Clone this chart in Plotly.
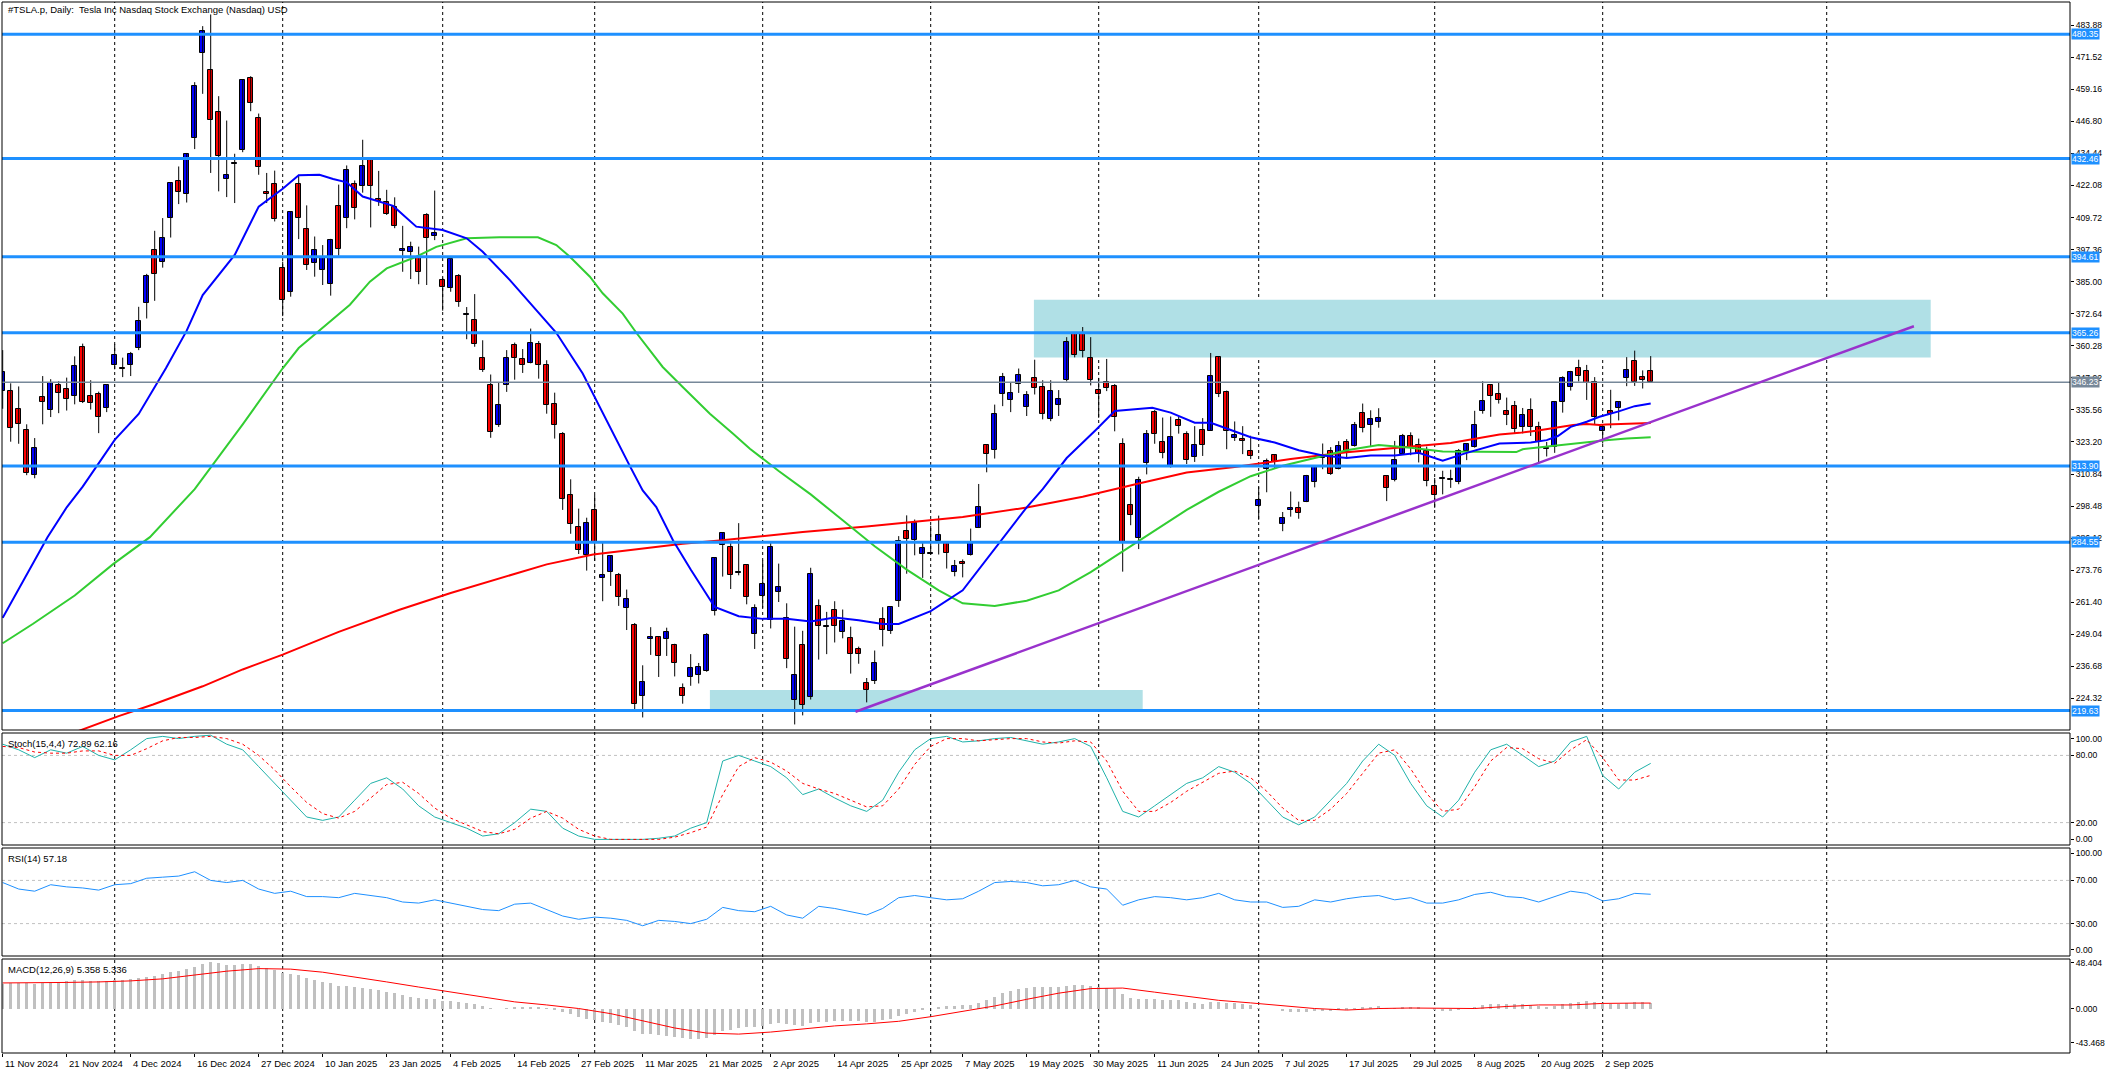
import plotly.graph_objects as go

W, H = 2106, 1073
L_PX, R_PX, T_PX, B_PX = 2, 2070, 2, 1053

# ---------------- data ----------------
date_labels = ["11 Nov 2024", "21 Nov 2024", "4 Dec 2024", "16 Dec 2024", "27 Dec 2024",
               "10 Jan 2025", "23 Jan 2025", "4 Feb 2025", "14 Feb 2025", "27 Feb 2025",
               "11 Mar 2025", "21 Mar 2025", "2 Apr 2025", "14 Apr 2025", "25 Apr 2025",
               "7 May 2025", "19 May 2025", "30 May 2025", "11 Jun 2025", "24 Jun 2025",
               "7 Jul 2025", "17 Jul 2025", "29 Jul 2025", "8 Aug 2025", "20 Aug 2025", "2 Sep 2025"]
label_bar = [0, 8, 16, 24, 32, 40, 48, 56, 64, 72, 80, 88, 96, 104, 112, 120, 128, 136, 144,
             152, 160, 168, 176, 184, 192, 200]
month_start_bar = [14, 35, 55, 74, 95, 116, 137, 157, 179, 200, 228]

opens = [342.7, 342.7, 335.9, 327.7, 310.6, 340.7, 335.5, 345.0, 343.8, 341.1,
         359.8, 341.0, 341.8, 336.1, 352.7, 351.8, 352.7, 359.5, 376.9, 397.2,
         392.4, 409.5, 423.9, 418.7, 440.4, 473.3, 466.4, 450.4, 424.5, 430.3,
         435.6, 463.6, 448.1, 419.5, 422.6, 390.1, 380.9, 422.7, 405.3, 392.1,
         389.5, 384.0, 414.2, 409.7, 422.6, 421.9, 432.2, 416.9, 415.6, 413.9,
         397.0, 396.3, 394.1, 410.6, 402.5, 385.5, 382.4, 387.1, 372.0, 370.2,
         355.7, 345.0, 329.9, 345.3, 360.4, 355.1, 353.7, 361.1, 353.0, 338.0,
         326.4, 302.8, 290.6, 279.5, 297.0, 270.9, 272.9, 272.1, 259.3, 252.5,
         225.3, 247.2, 248.1, 247.3, 245.1, 228.2, 232.5, 233.4, 235.0, 258.1,
         283.6, 282.7, 272.5, 275.6, 249.3, 263.8, 254.6, 265.3, 255.4, 223.8,
         245.0, 224.7, 260.0, 251.8, 258.4, 249.9, 247.6, 243.5, 230.3, 231.0,
         254.9, 250.5, 261.7, 289.0, 285.5, 279.9, 280.0, 284.9, 284.6, 273.1,
         276.9, 279.6, 290.2, 322.0, 320.0, 341.7, 339.3, 345.6, 336.6, 347.9,
         344.4, 332.1, 337.4, 347.0, 364.8, 364.9, 355.6, 343.3, 346.2, 344.8,
         322.5, 298.8, 286.0, 314.9, 334.7, 323.1, 314.0, 331.5, 326.1, 317.3,
         328.0, 327.5, 356.1, 342.5, 324.6, 324.5, 319.9, 298.5, 312.6, 318.0,
         291.4, 297.0, 297.6, 300.1, 307.9, 317.7, 319.7, 312.8, 323.2, 321.7,
         334.4, 329.7, 330.9, 310.0, 308.7, 318.5, 325.6, 322.2, 319.6, 306.2,
         309.1, 309.0, 307.9, 319.8, 321.4, 335.0, 345.0, 341.5, 335.0, 337.0,
         329.0, 335.5, 328.8, 320.9, 321.3, 338.5, 344.2, 351.7, 350.6, 346.5,
         327.5, 335.2, 336.2, 348.0, 354.6, 348.4, 350.6]
highs = [358.6, 345.8, 344.6, 330.0, 324.7, 348.6, 347.4, 346.6, 348.0, 356.2,
         361.1, 347.0, 342.6, 345.5, 360.9, 355.7, 357.9, 375.3, 388.0, 404.6,
         409.5, 423.4, 429.4, 434.6, 461.9, 483.5, 488.0, 456.5, 447.1, 434.3,
         462.8, 464.2, 449.8, 426.9, 427.8, 392.7, 412.0, 426.2, 414.4, 402.4,
         399.1, 401.5, 422.4, 429.8, 424.0, 439.7, 433.0, 427.7, 420.4, 417.5,
         406.5, 400.4, 398.5, 411.4, 420.1, 386.5, 393.9, 387.9, 375.2, 380.2,
         362.4, 349.2, 346.3, 358.6, 361.5, 359.0, 366.9, 362.1, 354.7, 342.2,
         327.0, 308.8, 297.5, 294.0, 302.8, 284.4, 279.6, 272.7, 266.3, 253.4,
         237.1, 251.8, 248.3, 251.6, 245.4, 230.1, 241.4, 238.0, 249.5, 278.6,
         288.2, 284.9, 291.9, 276.1, 260.6, 277.5, 285.0, 276.3, 261.0, 252.0,
         250.4, 274.7, 262.5, 257.7, 261.8, 258.6, 252.0, 244.3, 232.2, 242.8,
         259.5, 259.5, 286.9, 294.9, 293.3, 284.5, 290.9, 294.8, 284.9, 277.7,
         277.9, 289.8, 307.0, 322.2, 337.6, 349.8, 346.2, 351.5, 342.8, 354.9,
         347.0, 347.0, 343.2, 363.6, 365.3, 367.5, 363.6, 347.9, 355.2, 345.5,
         324.6, 305.5, 309.8, 327.8, 335.5, 332.6, 333.0, 333.0, 327.3, 329.3,
         332.4, 357.5, 356.3, 343.0, 331.1, 329.3, 325.6, 305.9, 316.8, 318.5,
         296.2, 304.1, 300.2, 310.5, 314.1, 322.6, 321.2, 323.5, 324.3, 330.9,
         338.0, 335.4, 336.2, 310.2, 323.6, 326.3, 326.9, 324.5, 321.4, 309.3,
         312.1, 312.5, 320.5, 322.4, 335.2, 346.6, 345.3, 346.0, 340.3, 339.0,
         336.3, 340.0, 331.0, 323.2, 339.0, 348.5, 350.6, 354.9, 352.9, 348.2,
         329.7, 343.3, 338.9, 355.9, 358.4, 350.8, 356.3]
lows = [336.0, 323.3, 322.5, 310.4, 309.2, 330.0, 332.8, 334.3, 335.3, 337.7,
        338.2, 335.7, 326.6, 334.7, 351.2, 348.2, 348.6, 358.6, 370.8, 377.6,
        390.4, 402.0, 414.9, 415.5, 436.1, 457.4, 426.9, 419.8, 417.6, 415.3,
        434.9, 450.7, 426.2, 415.3, 408.2, 371.7, 379.2, 401.4, 389.5, 386.9,
        383.7, 379.6, 395.0, 405.6, 409.0, 419.3, 405.9, 414.2, 410.7, 405.6,
        388.8, 386.0, 384.0, 383.7, 401.0, 373.8, 381.1, 375.3, 362.8, 359.9,
        350.2, 324.8, 329.0, 342.5, 347.2, 349.8, 353.5, 347.6, 334.1, 324.5,
        297.0, 287.8, 280.0, 273.6, 277.3, 261.8, 267.7, 260.0, 250.7, 220.0,
        217.0, 241.1, 232.6, 240.7, 232.8, 222.3, 229.2, 230.1, 234.6, 256.3,
        271.3, 266.5, 271.8, 260.6, 243.4, 259.3, 251.3, 261.5, 236.0, 214.3,
        217.8, 223.9, 239.3, 241.4, 245.9, 247.5, 233.9, 237.7, 222.8, 229.9,
        244.4, 249.2, 259.6, 272.4, 279.5, 270.8, 279.8, 279.8, 274.4, 271.4,
        271.0, 279.4, 290.0, 311.5, 316.8, 337.0, 334.7, 342.1, 333.2, 341.5,
        331.9, 331.2, 333.2, 346.5, 355.8, 355.8, 345.0, 332.5, 342.8, 327.3,
        273.2, 291.1, 281.9, 310.7, 322.5, 316.9, 313.3, 326.4, 314.7, 315.5,
        317.8, 327.5, 340.5, 320.4, 323.6, 318.5, 316.6, 293.2, 303.8, 312.8,
        288.8, 294.4, 293.6, 300.0, 305.7, 312.7, 310.5, 312.6, 317.1, 321.4,
        326.9, 321.6, 328.7, 300.4, 308.0, 318.3, 318.1, 315.3, 306.1, 297.8,
        303.0, 305.5, 306.9, 316.2, 321.0, 334.1, 332.9, 338.0, 329.7, 326.4,
        326.5, 325.5, 314.8, 317.6, 319.0, 334.5, 343.0, 346.5, 339.4, 330.1,
        322.6, 328.5, 331.5, 344.7, 344.8, 343.8, 346.1]
closes = [350.0, 328.5, 330.2, 311.2, 320.7, 338.7, 346.0, 342.0, 339.6, 352.3,
          338.6, 338.2, 332.9, 345.2, 356.6, 351.4, 357.3, 369.8, 387.2, 387.8,
          401.7, 423.0, 419.5, 434.2, 460.6, 481.6, 447.5, 433.3, 426.1, 430.7,
          462.6, 453.9, 429.2, 418.7, 409.1, 377.9, 411.7, 409.5, 391.4, 397.2,
          394.3, 401.1, 397.6, 428.2, 413.3, 429.6, 421.9, 416.1, 411.0, 406.6,
          397.4, 398.3, 388.8, 401.7, 403.6, 383.0, 393.6, 377.0, 372.6, 361.1,
          351.1, 327.0, 337.3, 355.7, 355.6, 353.0, 361.5, 353.0, 337.6, 329.9,
          301.3, 291.6, 281.5, 292.0, 284.6, 272.0, 279.1, 263.5, 262.7, 222.2,
          230.6, 248.1, 240.7, 250.0, 238.0, 225.3, 235.9, 236.3, 248.7, 278.4,
          288.1, 272.1, 273.1, 263.6, 259.2, 268.5, 282.8, 267.3, 239.4, 233.3,
          221.9, 272.2, 252.4, 252.3, 252.4, 254.1, 241.6, 241.4, 227.5, 238.0,
          250.7, 259.5, 285.0, 285.9, 292.0, 282.2, 280.5, 287.2, 280.3, 275.4,
          276.2, 284.8, 298.3, 318.4, 333.8, 348.4, 341.9, 349.0, 341.3, 344.0,
          334.1, 342.9, 339.8, 361.7, 356.6, 358.2, 347.1, 341.7, 344.0, 332.9,
          284.7, 295.1, 308.6, 326.1, 326.4, 319.1, 325.3, 329.3, 316.4, 322.1,
          322.2, 348.8, 341.7, 327.6, 325.8, 323.6, 317.7, 300.7, 315.7, 315.4,
          293.9, 297.8, 295.9, 309.9, 313.5, 316.9, 310.8, 321.7, 319.4, 329.7,
          328.5, 332.1, 332.6, 305.3, 316.1, 325.6, 321.2, 319.0, 308.3, 302.6,
          309.3, 308.7, 319.9, 322.3, 329.7, 339.0, 340.8, 339.4, 333.7, 328.3,
          333.6, 328.8, 323.0, 320.4, 338.5, 347.8, 350.1, 348.8, 345.8, 332.7,
          328.8, 334.1, 338.5, 350.8, 346.4, 347.0, 346.2]

# moving averages (bar index, value)
ma20_bar = [0, 3, 5.6, 8, 10, 14, 17, 20.4, 23, 25, 29, 32, 35, 37, 39.6, 41.3, 43, 45, 48.8,
            51.7, 55, 58, 60, 63.4, 66.7, 69.2, 72.5, 74.2, 76.7, 78.4, 80, 81.7, 83.8, 86,
            89, 92, 95, 98, 101, 104, 107, 110, 112, 116, 120, 124, 128, 130, 133, 136.7, 139,
            143.7, 146, 149, 151, 153, 156, 159, 162, 165, 168, 171, 174, 177, 180, 183,
            187.1, 191, 193, 194.4, 196, 198, 199.6, 202, 204, 206]
ma20_val = [255.4, 272, 286.5, 298, 306, 324, 334, 351.6, 366.1, 379.8, 395.3, 413.9, 420.8,
            426.0, 426.2, 424.6, 423.3, 417.8, 414.2, 406.2, 404.9, 401.7, 396.5, 385.6, 374.0,
            365.3, 349.6, 339.3, 323.8, 313.9, 304.5, 298.1, 285.2, 274, 259.6, 256, 255, 255,
            254, 255.5, 254.5, 253, 253, 258, 266, 282, 298, 305, 317, 328.0, 335.1, 336.4, 334.5,
            330.6, 330.6, 328.4, 325, 323, 320, 318, 317, 318, 318, 319, 316, 319,
            322.6, 323.0, 323.9, 325.5, 329.0, 331.0, 332.9, 335, 337, 338]
ma50_bar = [0, 3.8, 9, 13.8, 18.4, 24, 30, 35, 37, 43.4, 45.9, 48, 51.7, 54.2, 58, 62.1, 66.9,
            69.2, 70.9, 73.4, 75, 77.5, 79.2, 80.9, 82.5, 85, 88.4, 91.3, 93.4, 97, 101, 105,
            109, 113, 117, 120, 124, 128, 132, 136, 140, 144, 148, 152, 156, 160, 164, 168,
            172, 176, 180, 184, 187.1, 189.2, 190, 191.7, 193.8, 195.9, 198, 200.4, 203, 206]
ma50_val = [245.6, 253.1, 264, 276.1, 286.5, 305, 330, 351.6, 359.4, 376.1, 385.0, 390.1, 394.6,
            398.4, 401.7, 402.1, 402.1, 399.1, 394.6, 386.9, 380.5, 372.7, 365.3, 358.6, 352.1,
            344.4, 334.1, 326.4, 320.6, 312, 303, 293, 283, 274, 266, 261, 260, 262, 266, 273,
            281, 289, 297, 304, 310, 314, 317, 320, 322, 321, 319.5, 319.3, 319.3, 319.3, 320.4,
            321.0, 321.7, 322.3, 323.2, 323.9, 324.5, 325]
ma200_bar = [9.5, 14.4, 18.8, 25, 30, 35, 42, 49.6, 56, 63, 68, 73.8, 80, 85, 89.6, 93.4, 100,
             108, 114, 120, 128, 135, 142, 148, 154, 161, 168, 175, 181, 187.1, 189.6, 191.7,
             193.8, 196.3, 198, 199.6, 200.4, 203, 206]
ma200_val = [211.8, 217.4, 222.0, 229, 235.5, 241.2, 250, 258.5, 265, 271.5, 276, 279.8, 282,
             284, 285.2, 286.5, 288.5, 290.6, 292.5, 294.3, 297.9, 302.1, 307.2, 311.4, 313.5,
             316.6, 319.2, 321.2, 322.8, 326.1, 326.7, 327.5, 328.4, 329.7, 330.1, 329.7, 329.9,
             330.2, 330.5]

osc_bar = list(range(0, 207, 2))
stoch_main = [90, 85, 78, 85, 82, 88, 80, 76, 85, 95, 97, 95, 97, 98, 90, 85, 70, 55, 40, 25,
              22, 25, 40, 55, 60, 50, 35, 25, 20, 15, 8, 10, 20, 32, 30, 15, 8, 5, 5, 5,
              5, 6, 8, 15, 20, 75, 80, 75, 70, 60, 45, 50, 42, 35, 30, 40, 65, 85, 95, 97,
              92, 93, 95, 96, 93, 90, 92, 95, 88, 60, 30, 25, 35, 45, 55, 60, 70, 65, 55, 40,
              25, 18, 25, 40, 55, 75, 90, 80, 55, 35, 25, 40, 65, 85, 90, 80, 70, 75, 92, 97,
              62, 50, 65, 72.89]
stoch_sig = [88, 87, 83, 82, 82, 84, 84, 80, 80, 86, 93, 96, 96, 97, 95, 90, 80, 67, 52, 38,
             28, 24, 30, 42, 54, 56, 46, 33, 24, 18, 12, 10, 14, 24, 30, 24, 14, 8, 5, 5,
             5, 5, 7, 11, 16, 45, 70, 78, 74, 66, 55, 50, 46, 40, 34, 35, 50, 72, 88, 95,
             95, 93, 94, 95, 95, 92, 91, 93, 92, 75, 48, 30, 30, 38, 48, 56, 64, 66, 60, 48,
             33, 22, 22, 32, 46, 64, 82, 85, 68, 46, 30, 32, 52, 75, 87, 86, 77, 73, 85, 94,
             78, 58, 58, 62.16]
rsi_vals = [68, 62, 60, 66, 64, 63, 61, 66, 67, 72, 73, 74, 78, 70, 68, 70, 62, 58, 60, 55,
            55, 54, 58, 56, 54, 50, 49, 52, 49, 46, 43, 42, 48, 49, 43, 37, 34, 36, 35, 33,
            28, 33, 32, 30, 34, 45, 42, 41, 46, 38, 35, 46, 44, 41, 38, 44, 54, 56, 54, 52,
            53, 60, 68, 69, 68, 65, 66, 70, 64, 62, 47, 52, 55, 54, 52, 54, 58, 52, 50, 50,
            45, 46, 52, 50, 53, 55, 56, 52, 54, 49, 49, 52, 57, 59, 55, 54, 50, 55, 60, 58,
            51, 53, 58, 57.18]
macd_main = [24, 24.5, 25, 24.5, 24, 24.5, 25.5, 26, 26.5, 27.5,
             27.5, 27, 26.5, 26.5, 27.5, 28, 28.5, 29.5, 31, 32,
             33.5, 35.5, 37, 38.5, 41, 44, 45, 44.5, 43, 42.5,
             43.5, 43.5, 42, 40, 38, 35, 34, 32.5, 30, 28,
             26, 24.5, 22.5, 22, 21, 20.5, 19.5, 18, 16.5, 15,
             13, 11.5, 10, 9.5, 9, 7.5, 7, 6, 5, 4,
             2.5, 0.5, 0, 0.5, 1, 1, 1.5, 1.5, 0.5, -0.5,
             -3, -5.5, -8.5, -10, -11.5, -13.5, -14.5, -16.5, -18.5, -22,
             -24.5, -25, -26, -26.5, -27.5, -29, -29.5, -29.5, -28.5, -25.5,
             -22, -20.5, -19, -18.5, -18, -17, -15, -14, -15, -16,
             -17.5, -14.5, -13.5, -13, -12.5, -12, -12.5, -12.5, -13.5, -13,
             -11.5, -10, -7, -5, -3, -1.5, 0, 1.5, 2, 2.5,
             3, 3.5, 5, 8, 11.5, 15, 17, 19, 20, 21,
             21, 21.5, 21, 22.5, 23, 23, 22.5, 21.5, 20.5, 19,
             14, 10.5, 9, 9, 9, 8, 8, 8, 6.5, 5.5,
             4.5, 6, 6.5, 5.5, 5, 4, 3, 0.5, 0, 0,
             -2, -3, -3.5, -3, -2.5, -2, -2, -1, -0.5, 0.5,
             1, 1.5, 2, 0.5, 0.5, 1, 1, 1, 0, -1.5,
             -2, -2, -1, 0, 1.5, 3, 4, 4.5, 4.5, 4,
             4, 3.5, 2.5, 1.5, 2.5, 4, 5.5, 6.5, 7, 6,
             5, 4.5, 4.5, 5.5, 6, 6, 5.358]
macd_sig_bar = [0, 4, 8, 12, 16, 20, 24, 28, 32, 36, 40, 44, 48, 52, 56, 60, 64, 68, 72, 76, 80,
                84, 88, 92, 96, 100, 104, 108, 112, 116, 120, 124, 128, 132, 136, 140, 144, 148,
                152, 156, 160, 164, 168, 172, 176, 180, 184, 188, 192, 196, 200, 204, 206]
macd_sig = [25, 25, 25.5, 26, 27, 29, 32.5, 36.5, 39, 38.5, 35.5, 31, 26, 21, 16, 11, 6.5, 3.5,
            0, -5, -12, -19, -24, -25, -23, -20, -17, -15, -12.5, -8, -3, 2.5, 9, 15, 19.5, 20,
            16, 12, 8, 5.5, 3, 0, -1.5, 0, 0.5, 0, 0, 2, 3.5, 3.5, 5, 5.3, 5.336]

level_prices = [480.35, 432.46, 394.61, 365.26, 313.90, 284.55, 219.63]
bid_price = 346.23
main_ticks = [483.88, 471.52, 459.16, 446.80, 434.44, 422.08, 409.72, 397.36, 385.00, 372.64,
              360.28, 347.92, 335.56, 323.20, 310.84, 298.48, 286.12, 273.76, 261.40, 249.04,
              236.68, 224.32]
stoch_ticks = ["100.00", "80.00", "20.00", "0.00"]
rsi_ticks = ["100.00", "70.00", "30.00", "0.00"]
macd_ticks = ["48.404", "0.000", "-43.468"]
zone_upper = (128.9, 241.0, 355.8, 378.0)
zone_lower = (88.4, 142.5, 220.2, 227.6)
trend_pts = (106.6, 219.2, 238.9, 367.8)

# ---------------- geometry helpers ----------------
PLOT_H = B_PX - T_PX
def dom(top, bot):
    return [(B_PX - bot) / PLOT_H, (B_PX - top) / PLOT_H]

MAIN_TOP, MAIN_BOT = 2, 730
main_dom = dom(MAIN_TOP, MAIN_BOT)
stoch_dom = dom(733, 845)
rsi_dom = dom(848, 956)
macd_dom = dom(959, 1053)
x_lo = (L_PX - 2.7) / 8.0
x_hi = (R_PX - 2.7) / 8.0
PX_PER_PRICE = 1 / 0.3855
main_lo = 480.35 - (MAIN_BOT - 34.3) / PX_PER_PRICE
main_hi = 480.35 + (34.3 - MAIN_TOP) / PX_PER_PRICE

BLUE_LVL = "#1E90FF"
FONT = "Liberation Sans"
FS = 9.5
FS_AX = 8.6

fig = go.Figure()

n = len(closes)
bars = list(range(n))
wx, wy = [], []
for i in bars:
    wx += [i, i, None]
    wy += [lows[i], highs[i], None]
fig.add_trace(go.Scatter(x=wx, y=wy, mode="lines", line=dict(color="black", width=1),
                         yaxis="y", hoverinfo="skip", showlegend=False))
bases = [min(o, c) for o, c in zip(opens, closes)]
heights = [max(abs(c - o), 0.3) for o, c in zip(opens, closes)]
cols = ["#0000FF" if c >= o else "#FF0000" for o, c in zip(opens, closes)]
fig.add_trace(go.Bar(x=bars, y=heights, base=bases, width=0.62, yaxis="y",
                     marker=dict(color=cols, line=dict(color="black", width=1)),
                     showlegend=False, hoverinfo="skip"))

fig.add_trace(go.Scatter(x=ma200_bar, y=ma200_val, mode="lines", line=dict(color="#FF0000", width=2),
                         yaxis="y", showlegend=False, hoverinfo="skip"))
fig.add_trace(go.Scatter(x=ma50_bar, y=ma50_val, mode="lines", line=dict(color="#32CD32", width=2),
                         yaxis="y", showlegend=False, hoverinfo="skip"))
fig.add_trace(go.Scatter(x=ma20_bar, y=ma20_val, mode="lines", line=dict(color="#0000FF", width=2),
                         yaxis="y", showlegend=False, hoverinfo="skip"))

fig.add_trace(go.Scatter(x=osc_bar, y=stoch_main, mode="lines", line=dict(color="#20B2AA", width=1),
                         yaxis="y2", showlegend=False, hoverinfo="skip"))
fig.add_trace(go.Scatter(x=osc_bar, y=stoch_sig, mode="lines",
                         line=dict(color="#FF0000", width=1, dash="3px,3px"),
                         yaxis="y2", showlegend=False, hoverinfo="skip"))
fig.add_trace(go.Scatter(x=osc_bar, y=rsi_vals, mode="lines", line=dict(color="#1E90FF", width=1),
                         yaxis="y3", showlegend=False, hoverinfo="skip"))
fig.add_trace(go.Bar(x=bars, y=macd_main, width=0.4, yaxis="y4",
                     marker=dict(color="#C0C0C0", line=dict(width=0)), showlegend=False,
                     hoverinfo="skip"))
fig.add_trace(go.Scatter(x=macd_sig_bar, y=macd_sig, mode="lines", line=dict(color="#FF0000", width=1),
                         yaxis="y4", showlegend=False, hoverinfo="skip"))

shapes = []
for (x0, x1, y0, y1) in (zone_upper, zone_lower):
    shapes.append(dict(type="rect", xref="x", yref="y", x0=x0, x1=x1, y0=y0, y1=y1,
                       fillcolor="#B0E0E6", line=dict(width=0), layer="below"))
for b in month_start_bar:
    shapes.append(dict(type="line", xref="x", yref="paper", x0=b, x1=b, y0=0, y1=1,
                       line=dict(color="black", width=1, dash="3px,3px"), layer="below"))
for v in (80, 20):
    shapes.append(dict(type="line", xref="paper", yref="y2", x0=0, x1=1, y0=v, y1=v,
                       line=dict(color="#C0C0C0", width=1, dash="3px,3px"), layer="below"))
for v in (70, 30):
    shapes.append(dict(type="line", xref="paper", yref="y3", x0=0, x1=1, y0=v, y1=v,
                       line=dict(color="#C0C0C0", width=1, dash="3px,3px"), layer="below"))
for p in level_prices:
    shapes.append(dict(type="line", xref="paper", yref="y", x0=0, x1=1, y0=p, y1=p,
                       line=dict(color=BLUE_LVL, width=3), layer="above"))
shapes.append(dict(type="line", xref="paper", yref="y", x0=0, x1=1, y0=bid_price, y1=bid_price,
                   line=dict(color="#778899", width=1.5), layer="above"))
shapes.append(dict(type="line", xref="x", yref="y", x0=trend_pts[0], y0=trend_pts[1],
                   x1=trend_pts[2], y1=trend_pts[3], line=dict(color="#9932CC", width=2.5),
                   layer="above"))
for d in (main_dom, stoch_dom, rsi_dom, macd_dom):
    shapes.append(dict(type="rect", xref="paper", yref="paper", x0=0, x1=1, y0=d[0], y1=d[1],
                       line=dict(color="black", width=1), fillcolor="rgba(0,0,0,0)", layer="above"))

annotations = []
annotations.append(dict(xref="paper", yref="paper", x=0, y=main_dom[1], xanchor="left", yanchor="top",
                        xshift=4, yshift=0, showarrow=False,
                        text="#TSLA.p, Daily:  Tesla Inc Nasdaq Stock Exchange (Nasdaq) USD",
                        font=dict(family=FONT, size=FS, color="black")))
for d, txt in ((stoch_dom, "Stoch(15,4,4) 72.89 62.16"), (rsi_dom, "RSI(14) 57.18"),
               (macd_dom, "MACD(12,26,9) 5.358 5.336")):
    annotations.append(dict(xref="paper", yref="paper", x=0, y=d[1], xanchor="left", yanchor="top",
                            xshift=4, yshift=-3, showarrow=False, text=txt,
                            font=dict(family=FONT, size=FS, color="black")))
for p in level_prices:
    annotations.append(dict(xref="paper", yref="y", x=1, y=p, xanchor="left", yanchor="middle",
                            xshift=1, showarrow=False, text=f"{p:.2f}", bgcolor=BLUE_LVL,
                            borderpad=0, font=dict(family=FONT, size=FS_AX, color="white")))
annotations.append(dict(xref="paper", yref="y", x=1, y=bid_price, xanchor="left", yanchor="middle",
                        xshift=1, showarrow=False, text=f"{bid_price:.2f}", bgcolor="#778899",
                        borderpad=0, font=dict(family=FONT, size=FS_AX, color="white")))
for b, t in zip(label_bar, date_labels):
    annotations.append(dict(xref="x", yref="paper", x=b, y=0, xanchor="left", yanchor="top",
                            xshift=0, yshift=-3, showarrow=False, text=t,
                            font=dict(family=FONT, size=FS, color="black")))

axis_common = dict(showgrid=False, zeroline=False, showline=False, ticks="outside", ticklen=3,
                   tickcolor="black", side="right", anchor="x", automargin=False,
                   ticklabelstandoff=0,
                   tickfont=dict(family=FONT, size=FS_AX, color="black"))

fig.update_layout(
    width=W, height=H,
    margin=dict(l=L_PX, r=W - R_PX, t=T_PX, b=H - B_PX, autoexpand=False),
    paper_bgcolor="white", plot_bgcolor="white",
    showlegend=False, barmode="overlay", bargap=0,
    shapes=shapes, annotations=annotations,
    xaxis=dict(domain=[0, 1], anchor="y4", range=[x_lo, x_hi], showgrid=False, zeroline=False,
               showline=False, ticks="outside", ticklen=3, tickcolor="black", automargin=False,
               tickvals=label_bar, showticklabels=False, fixedrange=True),
    yaxis=dict(domain=main_dom, range=[main_lo, main_hi],
               tickvals=main_ticks, ticktext=[f"{v:.2f}" for v in main_ticks], **axis_common),
    # oscillator labels sit slightly inside the panel edges, as in the terminal
    yaxis2=dict(domain=stoch_dom, range=[0, 100], tickvals=[95, 80, 20, 5],
                ticktext=stoch_ticks, **axis_common),
    yaxis3=dict(domain=rsi_dom, range=[0, 100], tickvals=[95, 70, 30, 6],
                ticktext=rsi_ticks, **axis_common),
    yaxis4=dict(domain=macd_dom, range=[-43.468, 48.404], tickvals=[44.6, 0, -33.5],
                ticktext=macd_ticks, **axis_common),
)

fig.write_html("out.html", config={"displayModeBar": False},
               post_script="document.body.style.margin='0';document.body.style.overflow='hidden';")
